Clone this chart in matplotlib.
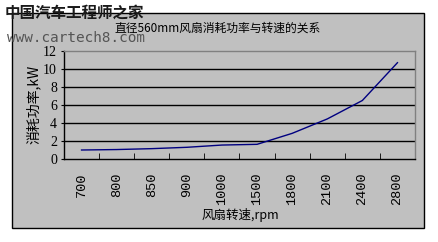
import matplotlib

matplotlib.use("Agg")
import matplotlib.pyplot as plt
from matplotlib.patches import Rectangle

plt.rcParams["font.family"] = ["Noto Sans CJK SC", "DejaVu Sans"]

# fan speed categories (rpm) and power consumption (kW)
speeds = ["700", "800", "850", "900", "1000", "1500", "1800", "2100", "2400", "2800"]
power_kw = [1.0, 1.05, 1.15, 1.3, 1.55, 1.63, 2.85, 4.45, 6.5, 10.7]
y_ticks = [0, 2, 4, 6, 8, 10, 12]

W, H = 439, 242
fig = plt.figure(figsize=(W / 100, H / 100), dpi=100)
fig.patch.set_facecolor("white")

# gray chart box with black border
box = Rectangle((12 / W, 1 - 228 / H), 412 / W, 215 / H, transform=fig.transFigure,
                facecolor="#C0C0C0", edgecolor="black", linewidth=1.0, zorder=-5)
fig.add_artist(box)

ax = fig.add_axes([64 / W, 1 - 159 / H, 351 / W, 108 / H])
ax.set_zorder(2)
ax.set_facecolor("#C0C0C0")

xs = [i + 0.5 for i in range(len(speeds))]
ax.plot(xs, power_kw, color="#000080", linewidth=1.0, zorder=3)

ax.set_xlim(0, len(speeds))
ax.set_ylim(0, 12)
ax.set_yticks(y_ticks)
ax.set_yticklabels([str(v) for v in y_ticks], family="Liberation Serif", fontsize=10)
for v in y_ticks[1:-1]:
    ax.axhline(v, color="black", linewidth=1.0, zorder=1)

ax.set_xticks(xs)
ax.set_xticklabels(speeds, rotation=90, family="Liberation Mono", fontsize=9.7, va="top")
ax.set_xticks(range(len(speeds) + 1), minor=True)
ax.tick_params(axis="x", which="major", length=0, pad=10)
ax.tick_params(axis="x", which="minor", direction="in", length=4, color="black")
ax.tick_params(axis="y", length=2, pad=3, color="black")

for side in ("top", "right"):
    ax.spines[side].set_color("#808080")
for side in ("left", "bottom"):
    ax.spines[side].set_color("black")
for sp in ax.spines.values():
    sp.set_linewidth(1.0)

fig.text(218 / W, 1 - 28 / H, "直径560mm风扇消耗功率与转速的关系",
         ha="center", va="center", fontsize=8.5, zorder=5)
fig.text(240 / W, 1 - 215 / H, "风扇转速,rpm", ha="center", va="center", fontsize=9)
fig.text(33 / W, 1 - 104 / H, "消耗功率,kW", ha="center", va="center",
         rotation=90, fontsize=10)

# watermark
fig.text(5 / W, 1 - 13 / H, "中国汽车工程师之家", ha="left", va="center",
         fontsize=11.2, fontweight="bold", color="#1a1a1a", zorder=5)
fig.text(7 / W, 1 - 38 / H, "www.cartech8.com", ha="left", va="center",
         family="DejaVu Sans Mono", fontsize=10.4, color="#555555", zorder=5)

fig.savefig("out.png", dpi=100)
